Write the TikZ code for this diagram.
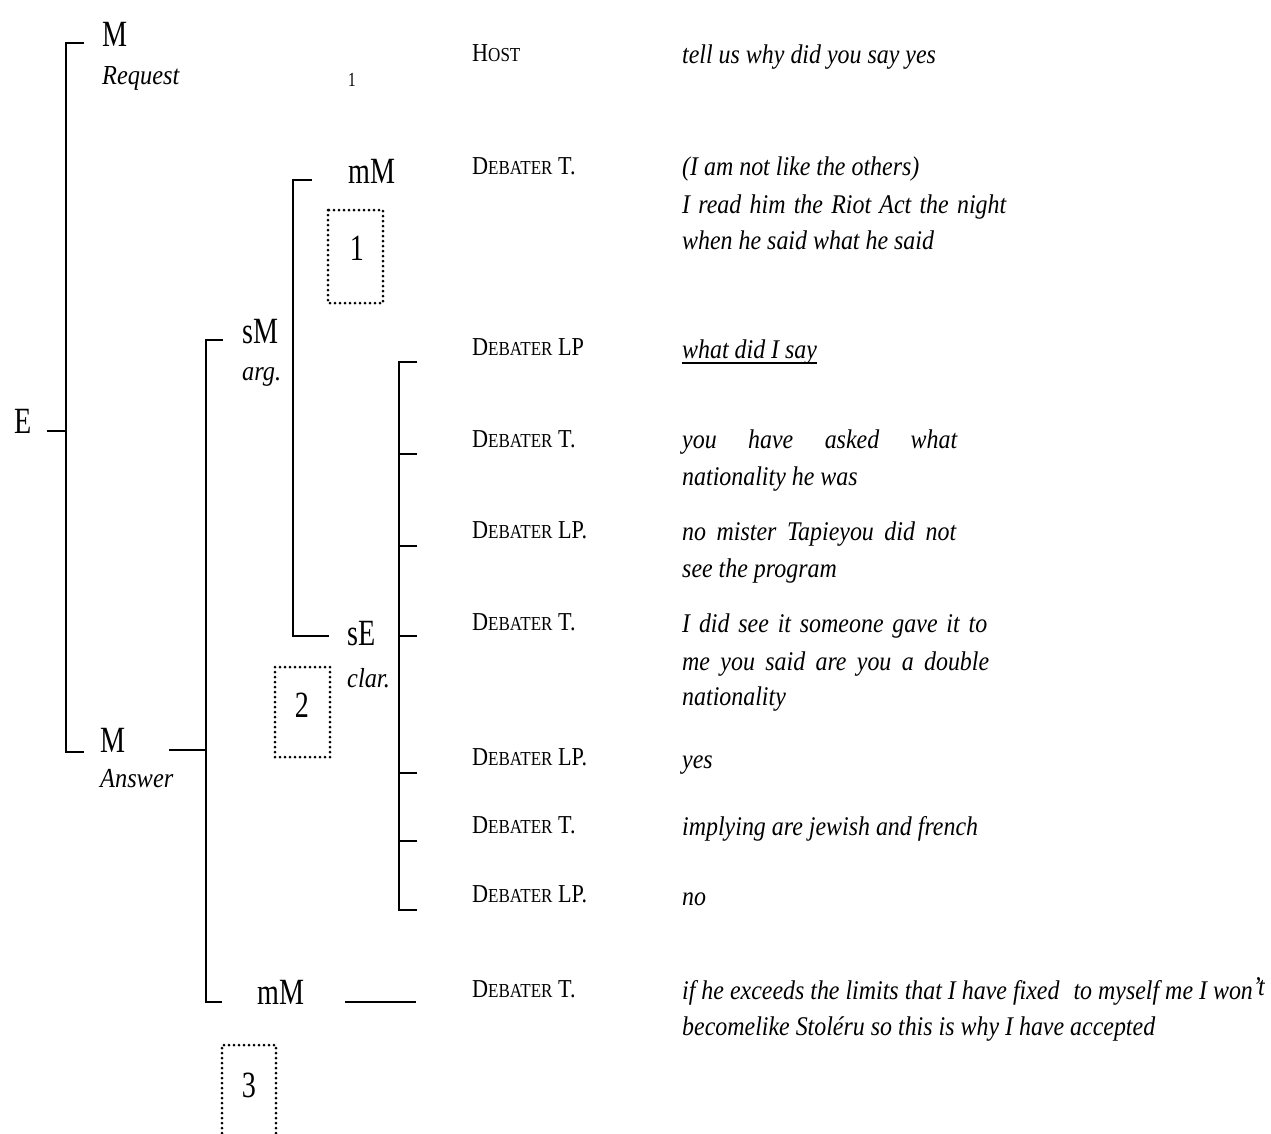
\documentclass[tikz,border=0pt]{standalone}
\usepackage{fontspec}
\newfontfamily\bigf[FakeStretch=0.76]{Liberation Serif}
\newfontfamily\spkf[FakeStretch=0.86]{Liberation Serif}
\newfontfamily\itf[FakeStretch=0.886]{Liberation Serif}
\newcommand\smc[1]{{\fontsize{19.8}{20}\selectfont #1}}
\tikzset{
  spk/.style={anchor=base west, inner sep=0pt, font=\spkf\fontsize{25.8}{30}\selectfont},
  utt/.style={anchor=base west, inner sep=0pt, font=\itf\itshape\fontsize{27}{32}\selectfont},
  lbl/.style={anchor=base west, inner sep=0pt, font=\bigf\fontsize{37}{40}\selectfont},
  tag/.style={anchor=base west, inner sep=0pt, font=\itf\itshape\fontsize{27.5}{32}\selectfont},
  num/.style={anchor=base, inner sep=0pt, font=\bigf\fontsize{37}{40}\selectfont},
  small/.style={anchor=base, inner sep=0pt, font=\bigf\fontsize{20}{22}\selectfont},
  br/.style={line width=1.5pt, line cap=butt, line join=miter},
  dotbox/.style={line width=3pt, dash pattern=on 0pt off 5pt, line cap=round}
}
\begin{document}
\begin{tikzpicture}[x=1pt,y=-1pt]
\useasboundingbox (0,0) rectangle (1271,1133);
% ---------- left labels ----------
\node[lbl] (Mtop) at (102,46) {M};
\node[tag] (req) at (102,84) {Request};
\node[small] (one) at (352,86) {1};
\node[lbl] (E) at (14,433) {E};
\node[lbl] (Mans) at (100,752) {M};
\node[tag] (ans) at (100,787) {Answer};
\node[lbl] (sM) at (242,343) {sM};
\node[tag] (arg) at (242,380) {arg.};
\node[lbl] (mMtop) at (348,183) {mM};
\node[lbl] (sE) at (347,645) {sE};
\node[tag] (clar) at (347,687) {clar.};
\node[lbl] (mMbot) at (257,1004) {mM};
% ---------- bracket coordinates ----------
\coordinate (a1) at (84,43);  \coordinate (a2) at (66,43);
\coordinate (a3) at (66,752); \coordinate (a4) at (84,752);
\coordinate (e1) at (47,431); \coordinate (e2) at (66,431);
\coordinate (m1) at (169,750); \coordinate (m2) at (206,750);
\coordinate (b1) at (223,340); \coordinate (b2) at (206,340);
\coordinate (b3) at (206,1002); \coordinate (b4) at (222,1002);
\coordinate (c1) at (312,180); \coordinate (c2) at (293,180);
\coordinate (c3) at (293,636); \coordinate (c4) at (329,636);
\coordinate (d1) at (417,362); \coordinate (d2) at (399,362);
\coordinate (d3) at (399,910); \coordinate (d4) at (417,910);
\coordinate (f1) at (345,1002); \coordinate (f2) at (416,1002);
\draw[br] (a1) -- (a2) -- (a3) -- (a4);
\draw[br] (e1) -- (e2);
\draw[br] (m1) -- (m2);
\draw[br] (b1) -- (b2) -- (b3) -- (b4);
\draw[br] (c1) -- (c2) -- (c3) -- (c4);
\draw[br] (d1) -- (d2) -- (d3) -- (d4);
\foreach \yy/\nm in {454/t2,546/t3,636/t4,773/t5,841/t6}{
  \coordinate (\nm a) at (399,\yy); \coordinate (\nm b) at (417,\yy);
  \draw[br] (\nm a) -- (\nm b);
}
\draw[br] (f1) -- (f2);
% ---------- dotted boxes ----------
\coordinate (bx1a) at (328,210); \coordinate (bx1b) at (383,303);
\draw[dotbox] (bx1a) rectangle (bx1b);
\node[num] (n1) at (357,260) {1};
\coordinate (bx2a) at (275,667); \coordinate (bx2b) at (330,757);
\draw[dotbox] (bx2a) rectangle (bx2b);
\node[num] (n2) at (302,717) {2};
\coordinate (bx3a) at (222,1133); \coordinate (bx3b) at (222,1045);
\coordinate (bx3c) at (276,1045); \coordinate (bx3d) at (276,1133);
\draw[dotbox] (bx3a) -- (bx3b) -- (bx3c) -- (bx3d);
\node[num] (n3) at (249,1097) {3};
% ---------- speakers ----------
\node[spk] (s1) at (472,61) {H\smc{OST}};
\node[spk] (s2) at (472,174) {D\smc{EBATER} T.};
\node[spk] (s3) at (472,355) {D\smc{EBATER} LP};
\node[spk] (s4) at (472,447) {D\smc{EBATER} T.};
\node[spk] (s5) at (472,538) {D\smc{EBATER} LP.};
\node[spk] (s6) at (472,630) {D\smc{EBATER} T.};
\node[spk] (s7) at (472,765) {D\smc{EBATER} LP.};
\node[spk] (s8) at (472,833) {D\smc{EBATER} T.};
\node[spk] (s9) at (472,902) {D\smc{EBATER} LP.};
\node[spk] (s10) at (472,997) {D\smc{EBATER} T.};
% ---------- utterances ----------
\node[utt] (u1) at (682,63) {tell us why did you say yes};
\node[utt] (u2a) at (682,175) {(I am not like the others)};
\node[utt] (u2b) at (682,213) {\makebox[324pt][s]{I read him the Riot Act the night}};
\node[utt] (u2c) at (682,249) {when he said what he said};
\node[utt] (u3) at (682,358) {what did I say};
\draw[line width=1.3pt] ([yshift=-5pt]u3.base west) -- ([yshift=-5pt]u3.base east);
\node[utt] (u4a) at (682,448) {\makebox[275pt][s]{you have asked what}};
\node[utt] (u4b) at (682,485) {nationality he was};
\node[utt] (u5a) at (682,540) {\makebox[274pt][s]{no mister Tapieyou did not}};
\node[utt] (u5b) at (682,577) {see the program};
\node[utt] (u6a) at (682,632) {\makebox[305pt][s]{I did see it someone gave it to}};
\node[utt] (u6b) at (682,670) {\makebox[307pt][s]{me you said are you a double}};
\node[utt] (u6c) at (682,705) {nationality};
\node[utt] (u7) at (682,768) {yes};
\node[utt] (u8) at (682,835) {implying are jewish and french};
\node[utt] (u9) at (682,905) {no};
\node[utt] (u10a) at (682,999) {if he exceeds the limits that I have fixed\hspace{8pt} to myself me I won\raisebox{4pt}{’t}};
\node[utt] (u10b) at (682,1035) {becomelike Stoléru so this is why I have accepted};
\end{tikzpicture}
\end{document}
